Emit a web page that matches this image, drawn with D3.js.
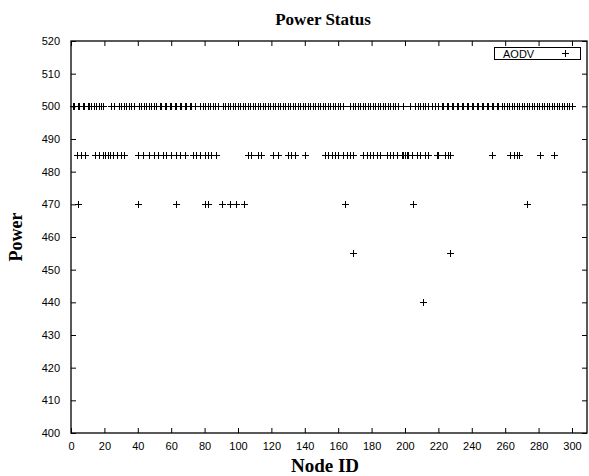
<!DOCTYPE html>
<html>
<head>
<meta charset="utf-8">
<script src="https://cdn.jsdelivr.net/npm/d3@7"></script>
<style>
  body { margin: 0; background: #fff; }
  svg { display: block; }
  .tick text { font-family: "Liberation Sans", Arial, sans-serif; font-size: 11px; fill: #000; }
</style>
</head>
<body>
<svg id="chart" width="589" height="476"></svg>
<script>
// Node IDs reporting each power level
const power500 = [1, 2, 4, 5, 7, 8, 10, 11, 12, 14, 15, 17, 18, 19,
  24, 26, 29, 30, 32, 33, 35, 36, 38,
  41, 42, 44, 45, 47, 48, 50, 51, 53, 54, 56, 57, 59, 60, 62, 63, 65, 66, 68, 69, 71, 72, 74,
  77, 79, 80, 82, 83, 85, 86, 88,
  91, 92, 94, 95, 97, 98, 100, 101, 103, 104, 106, 107, 109, 110, 112, 113, 115, 116, 118, 119,
  121, 122, 124, 125, 127, 128, 130, 131, 133, 134, 136, 137, 139, 140, 142, 143, 145, 146, 148, 149,
  151, 152, 154, 155, 157, 158, 160, 161, 163,
  167, 169, 170, 172, 173, 175, 176, 178, 179, 181, 182, 184, 185, 187, 188, 190, 191, 193, 194, 196,
  199,
  203, 206, 208, 209, 211, 212, 214, 216, 218,
  220, 222, 223, 225, 226, 228, 229, 231, 232, 234, 235, 237, 238, 240, 241, 243, 244, 246, 247, 249,
  250, 252, 253, 255, 256, 258, 259, 261, 262, 264, 265, 267, 268, 270, 271, 273, 274, 276, 277, 279,
  280, 282, 283, 285, 286, 288, 289, 291, 292, 294, 295, 297, 298, 300];
const power485 = [3.5, 6, 8.5, 14.5, 17, 19, 20.5, 22, 23.5, 25, 27.5, 30, 32,
  40, 43, 47, 50, 52, 55, 57, 60, 63, 65, 68,
  73, 75, 77, 80, 82, 84, 87,
  106, 108, 112, 114, 121, 124, 130, 132, 134, 140,
  152, 154, 156, 158, 160, 163, 165, 167, 169, 175, 177, 179, 181, 183, 185, 189, 191, 193, 195,
  198, 199, 200, 201, 202, 204, 207, 209, 212, 214, 219, 220, 224, 226, 227,
  252, 263, 265, 267, 268, 281, 289];
const power470 = [4, 40, 63, 80, 82, 90.5, 95, 99, 103.5, 164, 205, 273];
const power455 = [169, 227];
const power440 = [211];

const xTicks = [0, 20, 40, 60, 80, 100, 120, 140, 160, 180, 200, 220, 240, 260, 280, 300];
const yTicks = [400, 410, 420, 430, 440, 450, 460, 470, 480, 490, 500, 510, 520];

const svg = d3.select("#chart");
const plotL = 71, plotR = 587, plotT = 41, plotB = 433;

const x = d3.scaleLinear().domain([0, 309]).range([plotL, plotR]);
const y = d3.scaleLinear().domain([400, 520]).range([plotB, plotT]);

const points = [];
[[500, power500], [485, power485], [470, power470], [455, power455], [440, power440]]
  .forEach(([p, ids]) => ids.forEach(id => points.push({ id, p })));

// Axes with inward ticks on all four sides
const tickLen = 5;
svg.append("g").attr("transform", `translate(0,${plotB})`)
  .call(d3.axisBottom(x).tickValues(xTicks).tickSize(-tickLen).tickPadding(tickLen + 4).tickFormat(d3.format("d")))
  .call(g => g.select(".domain").remove());
svg.append("g").attr("transform", `translate(0,${plotT})`)
  .call(d3.axisTop(x).tickValues(xTicks).tickSize(-tickLen).tickFormat(""))
  .call(g => g.select(".domain").remove());
svg.append("g").attr("transform", `translate(${plotL},0)`)
  .call(d3.axisLeft(y).tickValues(yTicks).tickSize(-tickLen).tickPadding(tickLen + 6).tickFormat(d3.format("d")))
  .call(g => g.select(".domain").remove());
svg.append("g").attr("transform", `translate(${plotR},0)`)
  .call(d3.axisRight(y).tickValues(yTicks).tickSize(-tickLen).tickFormat(""))
  .call(g => g.select(".domain").remove());

svg.selectAll(".tick line").attr("stroke", "#000");

// Plot border
svg.append("rect")
  .attr("x", plotL).attr("y", plotT)
  .attr("width", plotR - plotL).attr("height", plotB - plotT)
  .attr("fill", "none").attr("stroke", "#000").attr("stroke-width", 1.3);

// Plus markers
const s = 3.5;
svg.append("g").selectAll("path").data(points).join("path")
  .attr("d", d => {
    const cx = Math.round(x(d.id)) + 0.5, cy = Math.round(y(d.p)) + 0.5;
    return `M${cx - s},${cy}H${cx + s}M${cx},${cy - s}V${cy + s}`;
  })
  .attr("stroke", "#000").attr("stroke-width", 1).attr("fill", "none");

// Legend
const lg = svg.append("g");
lg.append("rect").attr("x", 494.5).attr("y", 47.5).attr("width", 86).attr("height", 12)
  .attr("fill", "#fff").attr("stroke", "#000").attr("stroke-width", 1);
lg.append("text").attr("x", 503).attr("y", 57.5)
  .attr("font-family", "Liberation Sans, Arial, sans-serif").attr("font-size", 11)
  .text("AODV");
lg.append("path").attr("d", `M${565.5 - s},53.5H${565.5 + s}M565.5,${53.5 - s}V${53.5 + s}`)
  .attr("stroke", "#000").attr("stroke-width", 1);

// Titles
svg.append("text").attr("x", 323).attr("y", 25).attr("text-anchor", "middle")
  .attr("font-family", "Liberation Serif, Times New Roman, serif").attr("font-weight", "bold")
  .attr("font-size", 17).text("Power Status");
svg.append("text").attr("x", 325).attr("y", 472).attr("text-anchor", "middle")
  .attr("font-family", "Liberation Serif, Times New Roman, serif").attr("font-weight", "bold")
  .attr("font-size", 19).text("Node ID");
svg.append("text").attr("transform", `translate(22,${(plotT + plotB) / 2}) rotate(-90)`)
  .attr("text-anchor", "middle")
  .attr("font-family", "Liberation Serif, Times New Roman, serif").attr("font-weight", "bold")
  .attr("font-size", 18).text("Power");
</script>
</body>
</html>
